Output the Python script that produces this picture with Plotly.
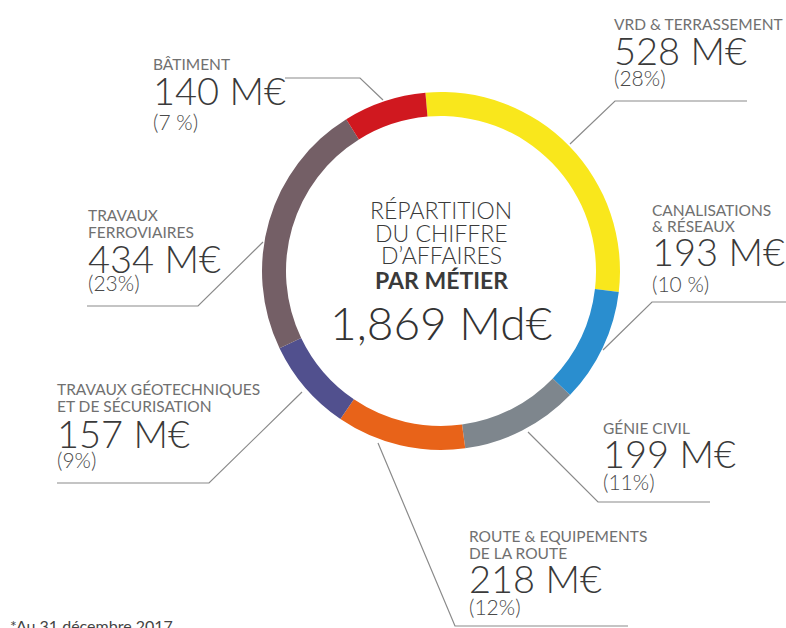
import plotly.graph_objects as go

# ---- data ----
metiers = [["VRD & TERRASSEMENT"], ["CANALISATIONS", "& RÉSEAUX"], ["GÉNIE CIVIL"],
           ["ROUTE & EQUIPEMENTS", "DE LA ROUTE"], ["TRAVAUX GÉOTECHNIQUES", "ET DE SÉCURISATION"],
           ["TRAVAUX", "FERROVIAIRES"], ["BÂTIMENT"]]
valeurs = [528, 193, 199, 218, 157, 434, 140]
valeur_labels = ["528 M€", "193 M€", "199 M€", "218 M€", "157 M€", "434 M€", "140 M€"]
pct_labels = ["(28%)", "(10 %)", "(11%)", "(12%)", "(9%)", "(23%)", "(7 %)"]
couleurs = ["#F9E71C", "#2A8ECF", "#7E868D", "#E86319", "#51508E", "#745F66", "#D0181F"]
centre_lines = ["RÉPARTITION", "DU CHIFFRE", "D’AFFAIRES", "<b>PAR MÉTIER</b>"]
total_label = "1,869 Md€"
footnote = "*Au 31 décembre 2017"

W, H = 786, 628

def px(x):
    return x / W

def py(y):
    return 1 - y / H

fig = go.Figure()
fig.add_trace(go.Pie(
    labels=[" ".join(m) for m in metiers],
    values=valeurs,
    marker=dict(colors=couleurs, line=dict(width=0)),
    hole=0.866,
    sort=False,
    direction="clockwise",
    rotation=-5,
    textinfo="none",
    hoverinfo="label+value+percent",
    domain=dict(x=[px(262), px(620)], y=[py(450), py(92)]),
    showlegend=False,
))

FAM = "Lato, Noto Sans, sans-serif"
LABEL_FONT = dict(family=FAM, size=15.5, color="#707070")
VALUE_FONT = dict(family=FAM, size=38, color="#3A3A3A", weight=300)
PCT_FONT = dict(family=FAM, size=21, color="#4A4A4A", weight=300)

# label block layout: (left x, label line centre ys, value centre y, pct centre y)
positions = [
    (613, [24], 50, 78),
    (651, [210, 226], 251, 283),
    (602, [428], 453, 481),
    (468, [536, 553], 578, 606),
    (56, [389, 406], 433, 460),
    (87, [215, 232], 258, 282),
    (152, [64], 90, 121),
]

def txt(text, x, y, font, anchor="left"):
    fig.add_annotation(text=text, x=px(x), y=py(y), xref="paper", yref="paper",
                       xanchor=anchor, yanchor="middle", showarrow=False,
                       font=font, borderpad=0)

for lines, val, pct, (x, ys, yv, yp) in zip(metiers, valeur_labels, pct_labels, positions):
    for line, yy in zip(lines, ys):
        txt(line, x, yy, LABEL_FONT)
    txt(val, x, yv, VALUE_FONT)
    txt(pct, x, yp, PCT_FONT)

# centre text
for line, yy in zip(centre_lines, [210, 233, 255, 280]):
    txt(line, 441, yy, dict(family=FAM, size=23, color="#3A3A3A", weight=300), anchor="center")
txt(total_label, 441, 322, dict(family=FAM, size=46, color="#333333", weight=300), anchor="center")

# footnote
txt(footnote, 9, 625, dict(family=FAM, size=16, color="#444444"))

# leader lines (paper coordinates)
leaders = [
    [(570, 144), (615, 101), (747, 101)],
    [(603, 350), (652, 302), (786, 302)],
    [(528, 432), (598, 502), (710, 502)],
    [(378, 443), (455, 626), (628, 626)],
    [(302, 392), (209, 483), (57, 483)],
    [(263, 242), (198, 306), (87, 306)],
    [(383, 100), (360, 78), (285, 78)],
]
for pts in leaders:
    path = "M " + " L ".join(f"{px(a)},{py(b)}" for a, b in pts)
    fig.add_shape(type="path", path=path, xref="paper", yref="paper",
                  line=dict(color="#8A8A8A", width=1.2))

fig.update_layout(
    width=W, height=H,
    margin=dict(l=0, r=0, t=0, b=0),
    paper_bgcolor="white", plot_bgcolor="white",
)

fig.write_html("out.html", config={"displayModeBar": False},
               post_script="document.body.style.margin='0';")
